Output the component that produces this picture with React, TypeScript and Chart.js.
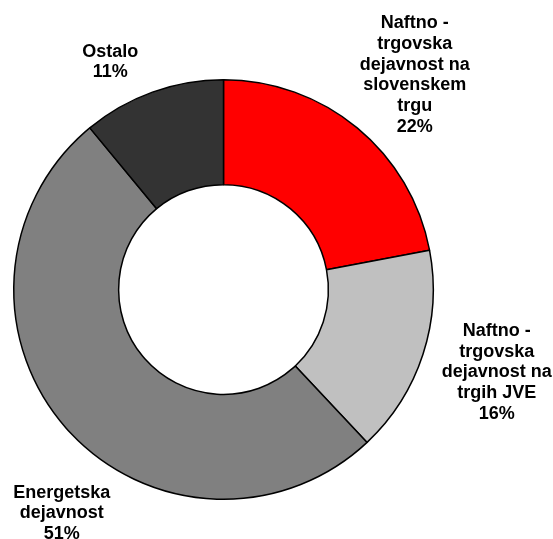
import React, { useEffect, useRef } from "react";
import { Chart, registerables } from "chart.js";

Chart.register(...registerables);

const categories: string[][] = [
  ["Naftno -", "trgovska", "dejavnost na", "slovenskem", "trgu"],
  ["Naftno -", "trgovska", "dejavnost na", "trgih JVE"],
  ["Energetska", "dejavnost"],
  ["Ostalo"],
];
const shares: number[] = [22, 16, 51, 11];
const sliceColors: string[] = ["#FF0000", "#C0C0C0", "#808080", "#333333"];

// label placement: radius factor from the centre along each slice's mid-angle, plus a nudge
const labelRadiusFactor = 1.34;
const labelNudgeX: number[] = [12, 6, 49, -18];
const labelNudgeY: number[] = [2, -4, 38, 37];

const labelPlugin = {
  id: "outerLabels",
  afterDraw(chart: any) {
    const ctx = chart.ctx;
    const meta = chart.getDatasetMeta(0);
    ctx.save();
    ctx.font = "bold 18px 'Liberation Sans', Arial, sans-serif";
    ctx.fillStyle = "#000000";
    ctx.textAlign = "center";
    ctx.textBaseline = "middle";
    const lineH = 20.8;
    meta.data.forEach((arc: any, i: number) => {
      const { x, y, startAngle, endAngle, outerRadius } = arc.getProps(
        ["x", "y", "startAngle", "endAngle", "outerRadius"],
        true
      );
      const mid = (startAngle + endAngle) / 2;
      const r = outerRadius * labelRadiusFactor;
      const cx = x + Math.cos(mid) * r + labelNudgeX[i];
      const cy = y + Math.sin(mid) * r + labelNudgeY[i];
      const lines = [...categories[i], shares[i] + "%"];
      const top = cy - ((lines.length - 1) * lineH) / 2;
      lines.forEach((ln, k) => ctx.fillText(ln, cx, top + k * lineH));
    });
    ctx.restore();
  },
};

export default function App() {
  const ref = useRef<HTMLCanvasElement | null>(null);
  useEffect(() => {
    if (!ref.current) return;
    const chart = new Chart(ref.current, {
      type: "doughnut",
      data: {
        labels: categories.map((c) => c.join(" ")),
        datasets: [
          {
            data: shares,
            backgroundColor: sliceColors,
            borderColor: "#000000",
            borderWidth: 1.5,
            hoverOffset: 0,
          },
        ],
      },
      options: {
        animation: false,
        responsive: false,
        maintainAspectRatio: false,
        cutout: "50%",
        layout: { padding: { left: 13, right: 119, top: 79, bottom: 39 } },
        plugins: {
          legend: { display: false },
          tooltip: { enabled: false },
        },
      },
      plugins: [labelPlugin],
    });
    return () => chart.destroy();
  }, []);
  return (
    <div style={{ position: "fixed", left: 0, top: 0, width: 553, height: 539, background: "#fff" }}>
      <canvas ref={ref} width={553} height={539} style={{ width: 553, height: 539 }} />
    </div>
  );
}
